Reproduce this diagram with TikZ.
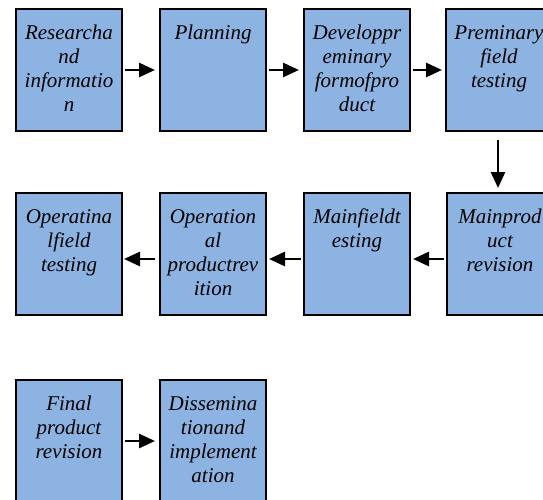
\documentclass[tikz,border=0pt]{standalone}
\usepackage{fontspec}
\setmainfont{Liberation Serif}
\usetikzlibrary{arrows.meta}
\definecolor{boxblue}{HTML}{8DB3E2}
\newcommand{\boxtxt}[1]{\begin{minipage}[c][122pt][t]{106pt}\centering\fontsize{21pt}{24pt}\selectfont\itshape\rule{0pt}{30pt}#1\end{minipage}}
\tikzset{
  stagebox/.style={draw=black, line width=1.2pt, fill=boxblue, inner sep=0pt, outer sep=0pt, minimum width=106pt, minimum height=122pt},
  flowarrow/.style={line width=2.8pt, -{Triangle[length=16pt,width=14pt]}}
}
\begin{document}
\begin{tikzpicture}[x=1pt,y=1pt]
\path[use as bounding box] (0,0) rectangle (543,-499);
\clip (0,0) rectangle (543,-499);
% row 1
\node[stagebox] (b1) at (69,-70) {\boxtxt{Researcha\\nd\\informatio\\n}};
\node[stagebox] (b2) at (213,-70) {\boxtxt{Planning}};
\node[stagebox] (b3) at (357,-70) {\boxtxt{Developpr\\eminary\\formofpro\\duct}};
\node[stagebox] (b4) at (499,-70) {\boxtxt{Preminary\\field\\testing}};
% row 2
\node[stagebox] (b5) at (500,-254) {\boxtxt{Mainprod\\uct\\revision}};
\node[stagebox] (b6) at (357,-254) {\boxtxt{Mainfieldt\\esting}};
\node[stagebox] (b7) at (213,-254) {\boxtxt{Operation\\al\\productrev\\ition}};
\node[stagebox] (b8) at (69,-254) {\boxtxt{Operatina\\lfield\\testing}};
% row 3
\node[stagebox] (b9) at (69,-441) {\boxtxt{Final\\product\\revision}};
\node[stagebox] (b10) at (213,-441) {\boxtxt{Dissemina\\tionand\\implement\\ation}};
% arrows
\draw[flowarrow, shorten <=3pt, shorten >=5pt] (b1.east) -- (b2.west);
\draw[flowarrow, shorten <=3pt, shorten >=5pt] (b2.east) -- (b3.west);
\draw[flowarrow, shorten <=3pt, shorten >=4pt] (b3.east) -- (b4.west);
\draw[flowarrow, shorten <=9pt, shorten >=5pt] ([xshift=-1pt]b4.south) -- ([xshift=-2pt]b5.north);
\draw[flowarrow, shorten <=3pt, shorten >=3pt] ([yshift=-5pt]b5.west) -- ([yshift=-5pt]b6.east);
\draw[flowarrow, shorten <=3pt, shorten >=3pt] ([yshift=-5pt]b6.west) -- ([yshift=-5pt]b7.east);
\draw[flowarrow, shorten <=5pt, shorten >=2pt] ([yshift=-5pt]b7.west) -- ([yshift=-5pt]b8.east);
\draw[flowarrow, shorten <=3pt, shorten >=5pt] (b9.east) -- (b10.west);
\end{tikzpicture}
\end{document}
